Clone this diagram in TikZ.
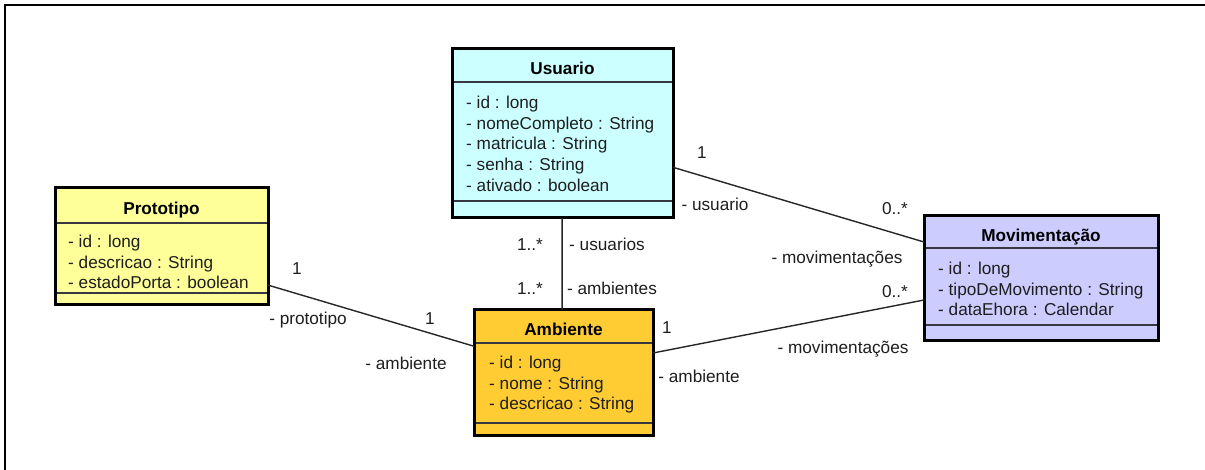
\documentclass[tikz,border=0pt]{standalone}
\usepackage{fontspec}
\setmainfont{Liberation Sans}
\usetikzlibrary{calc}
\definecolor{cusr}{RGB}{204,255,255}
\definecolor{cpro}{RGB}{255,255,153}
\definecolor{camb}{RGB}{255,204,51}
\definecolor{cmov}{RGB}{204,204,255}
\definecolor{cdiv}{RGB}{55,55,65}
\definecolor{ctxt}{RGB}{30,30,30}
\begin{document}
\begin{tikzpicture}[x=1pt,y=-1pt,
  font=\fontsize{17.2pt}{20.7pt}\selectfont,
  cls/.style={draw=black, line width=3pt, rectangle, inner sep=0pt, outer sep=0pt, anchor=north west},
  divl/.style={draw=cdiv, line width=1.5pt, shorten <=1.5pt, shorten >=1.5pt},
  ttl/.style={anchor=base, inner sep=0pt, font=\fontsize{17.2pt}{20.7pt}\selectfont\bfseries, text=black},
  attr/.style={anchor=base west, inner sep=0pt, text=ctxt},
  lbl/.style={anchor=center, inner sep=0pt, text height=12.4pt, text depth=3.6pt, text=ctxt},
  conn/.style={draw=black!85, line width=1.4pt}]
\useasboundingbox (0,0) rectangle (1205,470);
\fill[white] (0,0) rectangle (1205,470);
% frame
\draw[line width=2.2pt] (1205,5) -- (5,5) -- (5,470);

% Usuario
\node[cls, fill=cusr, minimum width=221pt, minimum height=169pt] (usuario) at (452,49) {};
\draw[divl] ($(usuario.north west)+(0,33)$) -- ($(usuario.north east)+(0,33)$);
\draw[divl] ($(usuario.north west)+(0,152)$) -- ($(usuario.north east)+(0,152)$);
\node[ttl] (usuarioT) at (562.5,75) {Usuario};
\node[attr] (u1) at (466,108.5) {- id : long};
\node[attr] (u2) at (466,129.2) {- nomeCompleto : String};
\node[attr] (u3) at (466,149.9) {- matricula : String};
\node[attr] (u4) at (466,170.6) {- senha : String};
\node[attr] (u5) at (466,191.3) {- ativado : boolean};

% Prototipo
\node[cls, fill=cpro, minimum width=213pt, minimum height=117pt] (proto) at (55,188) {};
\draw[divl] ($(proto.north west)+(0,35)$) -- ($(proto.north east)+(0,35)$);
\draw[divl] ($(proto.north west)+(0,105)$) -- ($(proto.north east)+(0,105)$);
\node[ttl] (protoT) at (161.5,215) {Prototipo};
\node[attr] (p1) at (68,247.4) {- id : long};
\node[attr] (p2) at (68,268.1) {- descricao : String};
\node[attr] (p3) at (68,288.8) {- estadoPorta : boolean};

% Ambiente
\node[cls, fill=camb, minimum width=179pt, minimum height=125pt] (amb) at (474,310) {};
\draw[divl] ($(amb.north west)+(0,33)$) -- ($(amb.north east)+(0,33)$);
\draw[divl] ($(amb.north west)+(0,113)$) -- ($(amb.north east)+(0,113)$);
\node[ttl] (ambT) at (563.5,336) {Ambiente};
\node[attr] (a1) at (489,368.4) {- id : long};
\node[attr] (a2) at (489,389.1) {- nome : String};
\node[attr] (a3) at (489,409.8) {- descricao : String};

% Movimentacao
\node[cls, fill=cmov, minimum width=234pt, minimum height=125pt] (mov) at (924,216) {};
\draw[divl] ($(mov.north west)+(0,32)$) -- ($(mov.north east)+(0,32)$);
\draw[divl] ($(mov.north west)+(0,109)$) -- ($(mov.north east)+(0,109)$);
\node[ttl] (movT) at (1041,242) {Movimentação};
\node[attr] (m1) at (938,274.4) {- id : long};
\node[attr] (m2) at (938,295.1) {- tipoDeMovimento : String};
\node[attr] (m3) at (938,315.8) {- dataEhora : Calendar};

% connectors
\draw[conn] ($(proto.north east)!0.83!(proto.south east)$) -- ($(amb.north west)!0.29!(amb.south west)$);
\draw[conn] ($(usuario.north east)!0.70!(usuario.south east)$) -- ($(mov.north west)!0.208!(mov.south west)$);
\draw[conn] ($(amb.north east)!0.344!(amb.south east)$) -- ($(mov.north west)!0.672!(mov.south west)$);
\draw[conn] ($(usuario.south west)!0.498!(usuario.south east)$) -- ($(amb.north west)!0.492!(amb.north east)$);

% labels
\node[lbl] (l1) at (297,270) {1};
\node[lbl] (l2) at (308,320) {- prototipo};
\node[lbl] (l3) at (430,320) {1};
\node[lbl] (l4) at (406,365) {- ambiente};
\node[lbl] (l5) at (702,154) {1};
\node[lbl] (l6) at (715,206) {- usuario};
\node[lbl] (l7) at (895,210) {0..*};
\node[lbl] (l8) at (837,259) {- movimentações};
\node[lbl] (l9) at (895,293) {0..*};
\node[lbl] (l10) at (667,329) {1};
\node[lbl] (l11) at (843,349) {- movimentações};
\node[lbl] (l12) at (699,378) {- ambiente};
\node[lbl] (l13) at (530,246) {1..*};
\node[lbl] (l14) at (607,246) {- usuarios};
\node[lbl] (l15) at (530,290) {1..*};
\node[lbl] (l16) at (612,290) {- ambientes};
\end{tikzpicture}
\end{document}
